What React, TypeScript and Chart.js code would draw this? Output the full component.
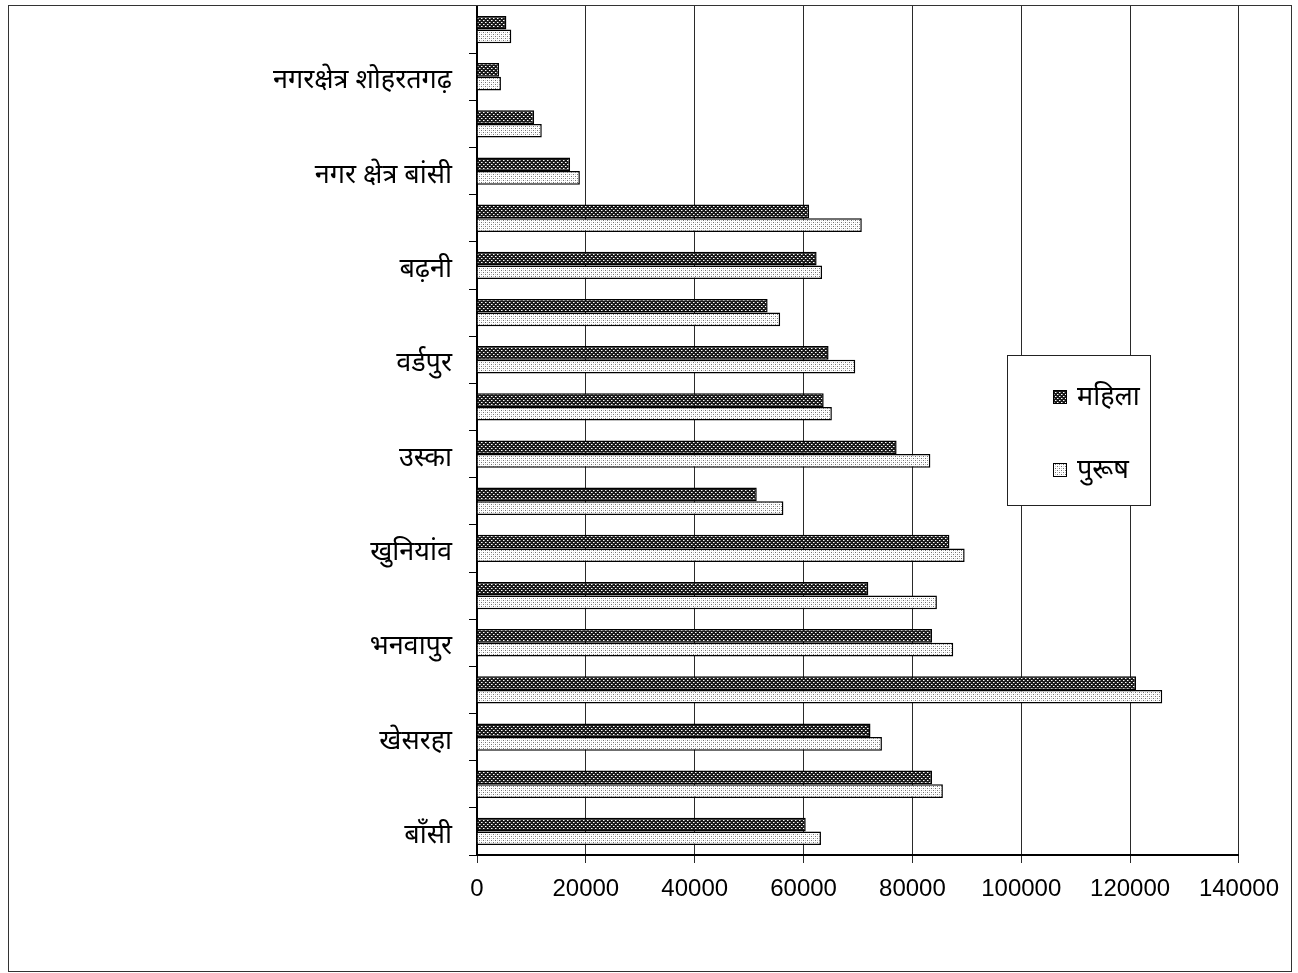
import React, { useEffect, useRef } from 'react';
import Chart from 'chart.js/auto';

// categories from top to bottom (only every other one is labelled in the source)
const categories = [
  '', 'नगरक्षेत्र शोहरतगढ़', '', 'नगर क्षेत्र बांसी', '', 'बढ़नी', '', 'वर्डपुर', '',
  'उस्का', '', 'खुनियांव', '', 'भनवापुर', '', 'खेसरहा', '', 'बाँसी',
];

const mahila = [
  5400, 4050, 10500, 17100, 61000, 62400, 53400, 64600, 63700,
  77100, 51400, 86800, 71900, 83600, 121100, 72300, 83600, 60400,
];

const purush = [
  6300, 4400, 11900, 18900, 70700, 63400, 55700, 69500, 65200,
  83300, 56300, 89600, 84500, 87500, 125900, 74400, 85600, 63200,
];

const seriesNames = ['महिला', 'पुरूष'];
const xMax = 140000;
const xStep = 20000;

const labelFont = "'Noto Sans', 'Liberation Sans', sans-serif";
const tickFont = "'Liberation Sans', Arial, sans-serif";

function makePattern(dark: boolean): CanvasPattern | string {
  const c = document.createElement('canvas');
  c.width = 4;
  c.height = 4;
  const g = c.getContext('2d');
  if (!g) return dark ? '#333' : '#ddd';
  if (dark) {
    g.fillStyle = '#1a1a1a';
    g.fillRect(0, 0, 4, 4);
    g.fillStyle = '#ffffff';
    g.fillRect(0, 0, 1, 1);
    g.fillRect(2, 2, 1, 1);
    g.fillStyle = '#8a8a8a';
    g.fillRect(1, 0, 1, 1);
    g.fillRect(3, 2, 1, 1);
  } else {
    g.fillStyle = '#ffffff';
    g.fillRect(0, 0, 4, 4);
    g.fillStyle = '#707070';
    g.fillRect(0, 0, 1, 1);
    g.fillRect(2, 2, 1, 1);
    g.fillStyle = '#c8c8c8';
    g.fillRect(2, 0, 1, 1);
    g.fillRect(0, 2, 1, 1);
  }
  return g.createPattern(c, 'repeat') || (dark ? '#333' : '#ddd');
}

// legend box drawn over the plot, like the original
const boxLegend = {
  id: 'boxLegend',
  afterDraw(chart: any) {
    const ctx = chart.ctx;
    const x = 998, y = 349, w = 143, h = 150;
    ctx.save();
    ctx.fillStyle = '#fff';
    ctx.fillRect(x, y, w, h);
    ctx.strokeStyle = '#222';
    ctx.lineWidth = 1;
    ctx.strokeRect(x + 0.5, y + 0.5, w, h);
    chart.data.datasets.forEach((ds: any, i: number) => {
      const sy = y + 35 + i * 73;
      ctx.fillStyle = ds.backgroundColor;
      ctx.fillRect(x + 46, sy, 14, 14);
      ctx.strokeStyle = '#000';
      ctx.lineWidth = 1;
      ctx.strokeRect(x + 46.5, sy + 0.5, 13, 13);
      ctx.fillStyle = '#000';
      ctx.font = `27px ${labelFont}`;
      ctx.textBaseline = 'middle';
      ctx.textAlign = 'left';
      ctx.fillText(ds.label, x + 70, sy + 7);
    });
    ctx.restore();
  },
};

const App: React.FC = () => {
  const canvasRef = useRef<HTMLCanvasElement | null>(null);
  const chartInstance = useRef<Chart | null>(null);

  useEffect(() => {
    if (!canvasRef.current) return;
    if (chartInstance.current) chartInstance.current.destroy();

    const dark = makePattern(true);
    const light = makePattern(false);

    chartInstance.current = new Chart(canvasRef.current, {
      type: 'bar',
      data: {
        labels: categories,
        datasets: [
          {
            label: seriesNames[0],
            data: mahila,
            backgroundColor: dark as any,
            borderColor: '#000',
            borderWidth: 1.5,
            categoryPercentage: 0.58,
            barPercentage: 1,
          },
          {
            label: seriesNames[1],
            data: purush,
            backgroundColor: light as any,
            borderColor: '#000',
            borderWidth: 1.5,
            categoryPercentage: 0.58,
            barPercentage: 1,
          },
        ],
      },
      options: {
        indexAxis: 'y',
        responsive: true,
        maintainAspectRatio: false,
        animation: false,
        layout: { padding: { top: 0, right: 51, left: 0, bottom: 0 } },
        plugins: {
          legend: { display: false },
          tooltip: { enabled: false },
        },
        scales: {
          x: {
            min: 0,
            max: xMax,
            afterFit: (scale: any) => {
              scale.height = 116;
            },
            ticks: {
              stepSize: xStep,
              color: '#000',
              padding: 12,
              font: { family: tickFont, size: 24 },
              callback: (v: any) => String(v),
            },
            grid: {
              color: '#2a2a2a',
              lineWidth: 1,
              tickLength: 8,
            },
            border: { color: '#000', width: 2 },
          },
          y: {
            offset: true,
            afterFit: (scale: any) => {
              scale.width = 468;
              scale.paddingTop = 0;
              scale.paddingBottom = 0;
            },
            ticks: {
              autoSkip: false,
              color: '#000',
              padding: 17,
              labelOffset: 4,
              font: { family: labelFont, size: 27 },
            },
            grid: {
              offset: true,
              drawOnChartArea: false,
              color: '#000',
              tickLength: 8,
            },
            border: { color: '#000', width: 2 },
          },
        },
      },
      plugins: [boxLegend],
    });

    return () => {
      if (chartInstance.current) {
        chartInstance.current.destroy();
        chartInstance.current = null;
      }
    };
  }, []);

  return (
    <div
      style={{
        position: 'absolute',
        left: 8,
        top: 5,
        width: 1282,
        height: 965,
        border: '1px solid #333',
        background: '#fff',
      }}
    >
      <canvas ref={canvasRef} />
    </div>
  );
};

export default App;
